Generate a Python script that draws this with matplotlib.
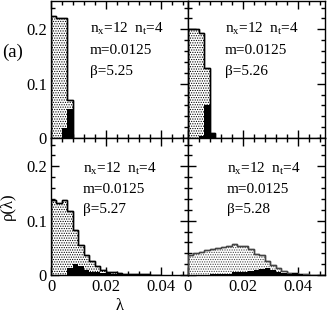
import numpy as np
import matplotlib
matplotlib.use("Agg")
import matplotlib.pyplot as plt
from matplotlib.ticker import MultipleLocator

plt.rcParams['font.family'] = ['Liberation Serif', 'DejaVu Serif']
plt.rcParams['mathtext.fontset'] = 'custom'
plt.rcParams['mathtext.rm'] = 'Liberation Serif'
plt.rcParams['mathtext.default'] = 'regular'
plt.rcParams['hatch.linewidth'] = 0.55

BIN = 0.002

# panel labels
betas = ["5.25", "5.26", "5.27", "5.28"]

# stippled histograms (all eigenvalues), bins of width 0.002 starting at 0
all_525 = [0.224, 0.220, 0.220, 0.070]
all_526 = [0.200, 0.200, 0.194, 0.129, 0.009]
all_527 = [0.138, 0.132, 0.138, 0.117, 0.083, 0.055, 0.036, 0.025, 0.016,
           0.009, 0.006, 0.006, 0.003, 0.0015, 0.0012, 0.0012, 0.001, 0.001,
           0.0008, 0.0005]
all_528 = [0.037, 0.040, 0.043, 0.046, 0.048, 0.049, 0.0506, 0.0525, 0.0568,
           0.054, 0.0525, 0.048, 0.038, 0.036, 0.026, 0.0185, 0.0123, 0.0074,
           0.003, 0.003, 0.0012, 0.0012, 0.0005, 0.0005, 0.0005]

# black histograms
low_525 = [0.0, 0.0, 0.0185, 0.054]
low_526 = [0.0, 0.0, 0.003, 0.061, 0.008]
low_527 = [0.0, 0.0, 0.0, 0.0123, 0.020, 0.016, 0.009, 0.006, 0.005, 0.003,
           0.003, 0.0015, 0.0015, 0.001, 0.001]
low_528 = [0.0, 0.0, 0.0, 0.0, 0.001, 0.001, 0.002, 0.002, 0.006, 0.006,
           0.006, 0.008, 0.010, 0.011, 0.012, 0.009, 0.006, 0.003, 0.001,
           0.004, 0.001]

all_h = [all_525, all_526, all_527, all_528]
low_h = [low_525, low_526, low_527, low_528]

W, H = 327, 313
fig = plt.figure(figsize=(W / 100, H / 100), dpi=100)

pw, ph = 137 / W, 137 / H
x0 = 51 / W
y0 = 38 / H
rects = [(x0, y0 + ph), (x0 + pw, y0 + ph), (x0, y0), (x0 + pw, y0)]

text_pos = [(0.285, [0.768, 0.61, 0.463]),
            (0.27, [0.768, 0.61, 0.463]),
            (0.232, [0.747, 0.596, 0.45]),
            (0.282, [0.747, 0.596, 0.45])]
edge_cols = ['black', 'black', 'black', '#444444']

for i, (l, b) in enumerate(rects):
    ax = fig.add_axes([l, b, pw, ph])
    a = np.array(all_h[i])
    e = np.arange(len(a) + 1) * BIN
    ax.stairs(a, e, fill=True, facecolor='white', hatch='.......',
              edgecolor=edge_cols[i], linewidth=1.0, zorder=2)
    ax.stairs(a, e, fill=False, color=edge_cols[i], linewidth=1.0, zorder=3)
    lo = np.array(low_h[i])
    el = np.arange(len(lo) + 1) * BIN
    ax.stairs(lo, el, fill=True, color='black', linewidth=0.8, zorder=4)
    ax.set_xlim(0, 0.05)
    ax.set_ylim(0, 0.252)
    ax.xaxis.set_major_locator(MultipleLocator(0.02))
    ax.xaxis.set_minor_locator(MultipleLocator(0.004))
    ax.yaxis.set_major_locator(MultipleLocator(0.1))
    ax.yaxis.set_minor_locator(MultipleLocator(0.02))
    ax.tick_params(which='both', direction='in', top=True, right=True,
                   labelsize=12, width=1.0, pad=3)
    ax.tick_params(which='major', length=5.5)
    ax.tick_params(which='minor', length=3)
    for s in ax.spines.values():
        s.set_linewidth(1.0)
    ax.set_xticks([0, 0.02, 0.04])
    ax.set_xticklabels(['0', '0.02', '0.04'])
    ax.set_yticks([0, 0.1, 0.2])
    ax.set_yticklabels(['0', '0.1', '0.2'])
    if i < 2:
        ax.tick_params(labelbottom=False)
    if i % 2 == 1:
        ax.tick_params(labelleft=False)
    tx, tys = text_pos[i]
    ax.text(tx, tys[0], "n$_x$=12  n$_t$=4", transform=ax.transAxes,
            fontsize=11, va='baseline', ha='left')
    ax.text(tx, tys[1], "m=0.0125", transform=ax.transAxes,
            fontsize=11, va='baseline', ha='left')
    ax.text(tx, tys[2], "\u03b2=" + betas[i], transform=ax.transAxes,
            fontsize=11, va='baseline', ha='left')
    if i == 2:
        ax.set_ylabel("\u03c1(\u03bb)", fontsize=12, labelpad=7)
        ax.set_xlabel("\u03bb", fontsize=12, labelpad=2)

fig.text(2 / W, 1 - 52 / H, "(a)", fontsize=13.5, ha='left', va='center')

fig.savefig("out.png", dpi=100)
